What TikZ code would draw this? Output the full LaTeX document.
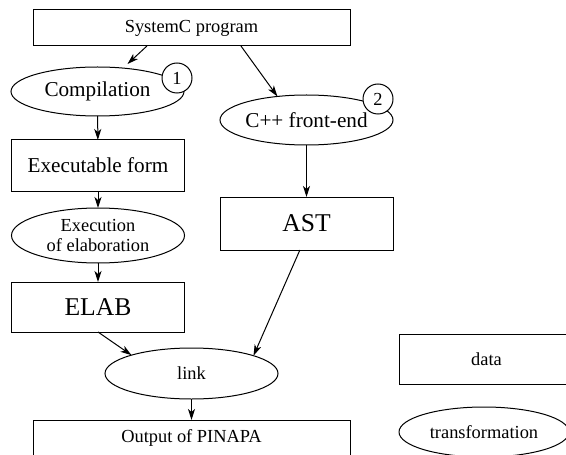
\documentclass[tikz,border=0pt]{standalone}
\usepackage{fontspec}
\setmainfont{Liberation Serif}
\usetikzlibrary{arrows.meta,shapes.geometric}

\begin{document}
\begin{tikzpicture}[x=0.5pt,y=-0.5pt,line width=0.5pt,
  >={Stealth[length=5.5pt,width=3.5pt,inset=1.5pt]},
  box/.style={draw,rectangle,inner sep=0pt,outer sep=0pt,minimum width=86.5pt,minimum height=25.5pt},
  wide/.style={box,minimum width=158.5pt,minimum height=18pt},
  proc/.style={draw,ellipse,inner sep=0pt,outer sep=0pt,minimum width=86.5pt,minimum height=25.5pt},
  num/.style={draw,circle,fill=white,inner sep=0pt,outer sep=0pt,minimum size=15pt,font=\fontsize{9.2}{10}\selectfont},
  fsmall/.style={font=\fontsize{9.2}{9.7}\selectfont},
  fmid/.style={font=\fontsize{10.6}{12}\selectfont},
  fbig/.style={font=\fontsize{12.8}{14}\selectfont}]
\useasboundingbox (0,0) rectangle (566,454);
\clip (0,0) rectangle (566,454);

\node[wide,fsmall] (prog) at (191.5,28) {SystemC program};
\node[proc,fmid,minimum height=24.5pt] (comp) at (97.5,91.5) {Compilation};
\node[proc,fmid,minimum height=25pt] (cxx) at (306.5,120) {C++ front-end};
\node[box,fmid] (exe) at (98,165.5) {Executable form};
\node[box,fbig,minimum height=26.5pt] (ast) at (306.5,223.5) {AST};
\node[proc,fsmall,align=center,minimum height=27.5pt] (elabx) at (98,235.5) {Execution\\of elaboration};
\node[box,fbig,minimum height=25pt] (elab) at (98,307) {ELAB};
\node[proc,fsmall] (link) at (191.5,373.5) {link};
\node[wide,fsmall] (out) at (191.5,438) {Output of PINAPA};

% legend
\node[box,fsmall,minimum width=87pt,minimum height=25pt] (data) at (486.5,359.5) {data};
\node[proc,fsmall,minimum width=85pt,minimum height=25pt] (trans) at (484,432) {transformation};

% numbers
\node[num] (n1) at (177,78) {1};
\node[num] (n2) at (378,99) {2};

\draw[->] (prog.202) -- ([xshift=15pt,yshift=1.5pt]comp.north);
\draw[->] (prog.340) -- (cxx.141);
\draw[->] (comp) -- (exe);
\draw[->] (exe) -- (elabx);
\draw[->] (elabx) -- (elab);
\draw[->] (cxx) -- (ast);
\draw[->] (ast.256) -- (link.16);
\draw[->] (elab.south) -- (link.163);
\draw[->] (link) -- (out);
\end{tikzpicture}
\end{document}
